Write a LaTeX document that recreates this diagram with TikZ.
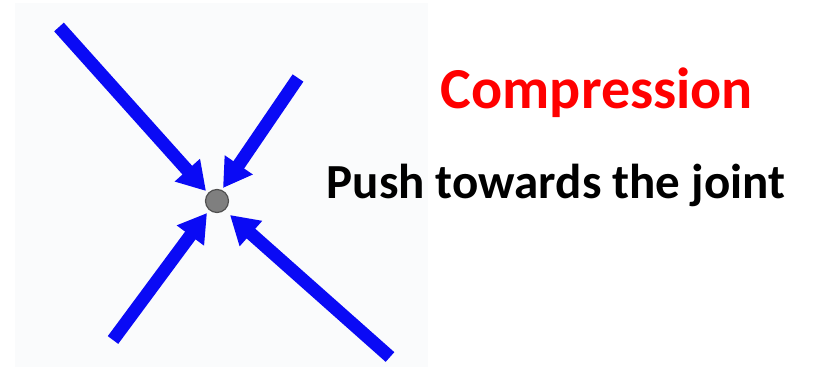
\documentclass[tikz,border=0pt]{standalone}
\usepackage{fontspec}
\setmainfont{Carlito}
\usetikzlibrary{arrows.meta}
\definecolor{panel}{HTML}{FAFBFC}
\definecolor{arrowblue}{HTML}{0A0AF5}
\definecolor{jointgrey}{HTML}{7F7F7F}
\definecolor{jointedge}{HTML}{505050}
\tikzset{
  force/.style={draw=arrowblue, line width=13pt, -{Triangle[length=28pt,width=32pt]}, shorten >=0pt},
  jointstyle/.style={circle, fill=jointgrey, draw=jointedge, line width=1.2pt, minimum size=23pt, inner sep=0pt},
  titletext/.style={font=\bfseries\fontsize{58pt}{62pt}\selectfont, text=red, inner sep=0pt, anchor=base},
  subtext/.style={font=\bfseries\fontsize{49pt}{53pt}\selectfont, text=black, inner sep=0pt, anchor=base}
}
\begin{document}
\begin{tikzpicture}[x=1pt,y=-1pt]
\useasboundingbox (0,0) rectangle (814,367);
\fill[white] (0,0) rectangle (814,367);
\fill[panel] (15,3) rectangle (428,367);
\node[jointstyle] (joint) at (217,201) {};
\coordinate (t1) at (59,27);
\coordinate (t2) at (298,78);
\coordinate (t3) at (113,340);
\coordinate (t4) at (390,357);
\coordinate (h1) at (206,191);
\coordinate (h2) at (223,188);
\coordinate (h3) at (207,213);
\coordinate (h4) at (230,215);
\draw[force] (t1) -- (h1);
\draw[force] (t2) -- (h2);
\draw[force] (t3) -- (h3);
\draw[force] (t4) -- (h4);
\node[titletext] (title) at (597,108) {Compression};
\node[subtext] (sub) at (556,198) {Push towards the joint};
\end{tikzpicture}
\end{document}
